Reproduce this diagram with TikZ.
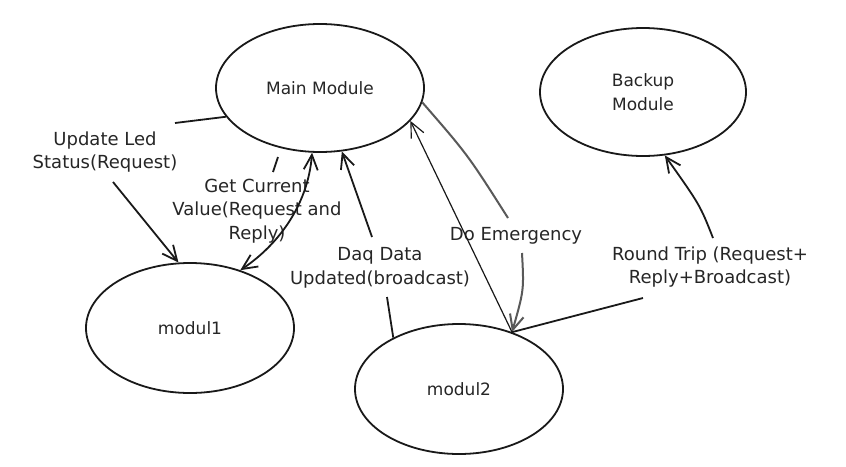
\documentclass[tikz,border=0pt]{standalone}
\usepackage{fontspec}
\setmainfont{DejaVu Sans}
\usetikzlibrary{shapes.geometric,arrows.meta}
\begin{document}
\begin{tikzpicture}[x=1pt,y=-1pt,
  mod/.style={ellipse,draw=black!90,line width=1.8pt,inner sep=0pt,
    font=\fontsize{17}{24.5}\selectfont,align=center,text=black!85},
  lbl/.style={font=\fontsize{18}{23.5}\selectfont,align=center,inner sep=0pt,text=black!85},
  conn/.style={draw=black!90,line width=1.8pt},
  thinconn/.style={draw=black!90,line width=1.2pt},
  grayconn/.style={draw=black!65,line width=2pt},
  tip/.style={-{Straight Barb[length=15pt,width=14pt]}},
  bothtips/.style={{Straight Barb[length=15pt,width=14pt]}-{Straight Barb[length=15pt,width=14pt]}}
]
\useasboundingbox[fill=white] (0,0) rectangle (846,466);

% modules
\node[mod,minimum width=208pt,minimum height=128pt] (main) at (320,88) {Main Module};
\node[mod,minimum width=206pt,minimum height=128pt] (backup) at (643,92) {Backup\\Module};
\node[mod,minimum width=208pt,minimum height=130pt] (m1) at (190,328) {modul1};
\node[mod,minimum width=208pt,minimum height=130pt] (m2) at (459,389) {modul2};

% labels
\node[lbl] (lupd) at (105,152) {Update Led\\Status(Request)};
\node[lbl] (lget) at (257,211) {Get Current\\Value(Request and\\Reply)};
\node[lbl] (ldaq) at (380,268) {Daq Data\\Updated(broadcast)};
\node[lbl] (lemg) at (516,236) {Do Emergency};
\node[lbl] (lrt) at (710,267) {Round Trip (Request+\\Reply+Broadcast)};

% Update Led Status
\coordinate (u1) at (175,123);
\coordinate (u2) at (113,182);
\draw[conn] (main.197) -- (u1);
\draw[conn,tip] (u2) -- (m1.100);

% Get Current Value
\draw[conn,bothtips] (m1.49) .. controls (278,245) and (308,205) .. (main.263);
\coordinate (d1) at (273,172);
\coordinate (d2) at (278,157);
\draw[conn] (d1) -- (d2);

% Daq Data Updated
\coordinate (q1) at (387,297);
\coordinate (q2) at (372,237);
\draw[conn] (m2.142) -- (q1);
\draw[conn,tip] (q2) -- (main.289);

% modul2 -> main (thin)
\draw[thinconn,tip] (m2.47) -- (main.340);

% Do Emergency
\coordinate (e1) at (508,218);
\coordinate (e2) at (522,253);
\draw[grayconn] (main.352) .. controls (468,155) .. (e1);
\draw[grayconn,tip] (e2) .. controls (524,290) .. (m2.47);

% Round Trip
\coordinate (r1) at (643,298);
\coordinate (r2) at (713,238);
\draw[conn] (m2.47) -- (r1);
\draw[conn,tip] (r2) .. controls (700,205) .. (backup.289);
\end{tikzpicture}
\end{document}
